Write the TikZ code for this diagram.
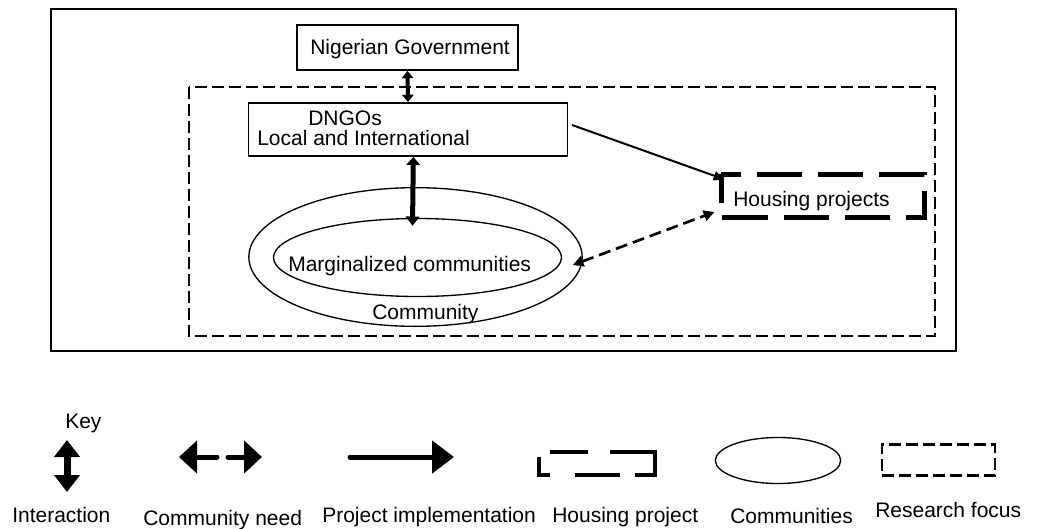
\documentclass[tikz,border=0pt]{standalone}
\usepackage{fontspec}
\setmainfont{Liberation Sans}
\usetikzlibrary{arrows.meta,shapes.geometric}
\tikzset{
  lbl/.style={anchor=base west,inner sep=0pt,font=\fontsize{15.75}{19}\selectfont},
  plainbox/.style={draw,rectangle,line width=1.1pt,inner sep=0pt},
  focus/.style={draw,line width=1.8pt,dash pattern=on 9pt off 3.75pt},
  hpline/.style={line width=3.75pt,dash pattern=on 34pt off 12pt,dash phase=19.5pt},
  commell/.style={draw,ellipse,line width=1pt,inner sep=0pt},
  interact/.style={line width=3pt,{Triangle[width=8.5pt,length=5.5pt]}-{Triangle[width=8.5pt,length=5.5pt]}},
  interactbig/.style={line width=3.75pt,{Triangle[width=10pt,length=6pt]}-{Triangle[width=10pt,length=7pt]}},
  implement/.style={line width=1.5pt,-{Triangle[width=7pt,length=8pt]}},
  need/.style={line width=2pt,dash pattern=on 9pt off 4.5pt,{Triangle[width=8pt,length=8pt]}-{Triangle[width=8pt,length=8pt]}},
  keyinteract/.style={line width=5.25pt,{Triangle[width=18.75pt,length=12.75pt]}-{Triangle[width=18.75pt,length=12.75pt]}},
  keyneed/.style={line width=3.75pt,line cap=round,-{Triangle[width=24pt,length=13.5pt]}},
  keyimplement/.style={line width=3.75pt,line cap=round,-{Triangle[width=24pt,length=16.5pt]}}
}
\begin{document}
\begin{tikzpicture}[x=0.75pt,y=-0.75pt]
  \useasboundingbox (0,0) rectangle (1037,528);
  % frame and research focus
  \draw[line width=1.1pt] (51,9) rectangle (956,351);
  \draw[focus] (189,87) rectangle (935,336);
  % actors
  \node[plainbox,minimum width=166pt,minimum height=34pt] (gov) at (407.5,47.5) {};
  \node[lbl] (govtxt) at (310,55) {Nigerian Government};
  \node[plainbox,minimum width=239pt,minimum height=40pt] (dngo) at (408,129.5) {};
  \node[lbl] (dngotxt) at (308,125) {DNGOs};
  \node[lbl] (dngosub) at (257,145) {Local and International};
  \node[commell,minimum width=250pt,minimum height=104pt] (comm) at (415.5,257) {};
  \node[commell,minimum width=216pt,minimum height=58.5pt] (marg) at (417.5,257.5) {};
  \node[lbl] (margtxt) at (288,271) {Marginalized communities};
  \node[lbl] (commtxt) at (372,319) {Community};
  \node[rectangle,inner sep=0pt,minimum width=152pt,minimum height=32pt] (hp) at (823,196) {};
  \draw[hpline] (hp.north west) -- (hp.north east) -- (hp.south east) -- (hp.south west) -- cycle;
  \node[lbl] (hptxt) at (733,206) {Housing projects};
  % links
  \draw[interact] (gov.south) -- (dngo.north);
  \draw[interactbig] ([xshift=4]dngo.south) -- ([shift={(-5,8)}]marg.north);
  \draw[implement] ([shift={(4,-4.5)}]dngo.east) -- ([shift={(3,5)}]hp.north west);
  \draw[need] ([shift={(-10,8)}]comm.east) -- ([shift={(-7,16)}]hp.west);
  % key
  \node[lbl] (key) at (65,428) {Key};
  \coordinate (ia) at (67,440);
  \coordinate (ib) at (67,492);
  \draw[keyinteract] (ia) -- (ib);
  \coordinate (na) at (217,457);
  \coordinate (nb) at (179,457);
  \coordinate (nc) at (228,457);
  \coordinate (nd) at (262,457);
  \draw[keyneed] (na) -- (nb);
  \draw[keyneed] (nc) -- (nd);
  \coordinate (pa) at (350,457);
  \coordinate (pb) at (454,457);
  \draw[keyimplement] (pa) -- (pb);
  \draw[line width=3pt,dash pattern=on 28.5pt off 16.5pt on 66pt off 11.25pt on 33.75pt off 18.75pt on 21.75pt off 12pt]
    (550,452) -- (655,452) -- (655,475) -- (539,475) -- (539,452) -- cycle;
  \node[commell,minimum width=94pt,minimum height=34.5pt] (commkey) at (778,460.5) {};
  \node[focus,minimum width=85pt,minimum height=23pt] (focuskey) at (938.5,460) {};
  \node[lbl] (l1) at (12,522) {Interaction};
  \node[lbl] (l2) at (143,525) {Community need};
  \node[lbl] (l3) at (322,522) {Project implementation};
  \node[lbl] (l4) at (552,522) {Housing project};
  \node[lbl] (l5) at (730,523) {Communities};
  \node[lbl] (l6) at (875,517) {Research focus};
\end{tikzpicture}
\end{document}
